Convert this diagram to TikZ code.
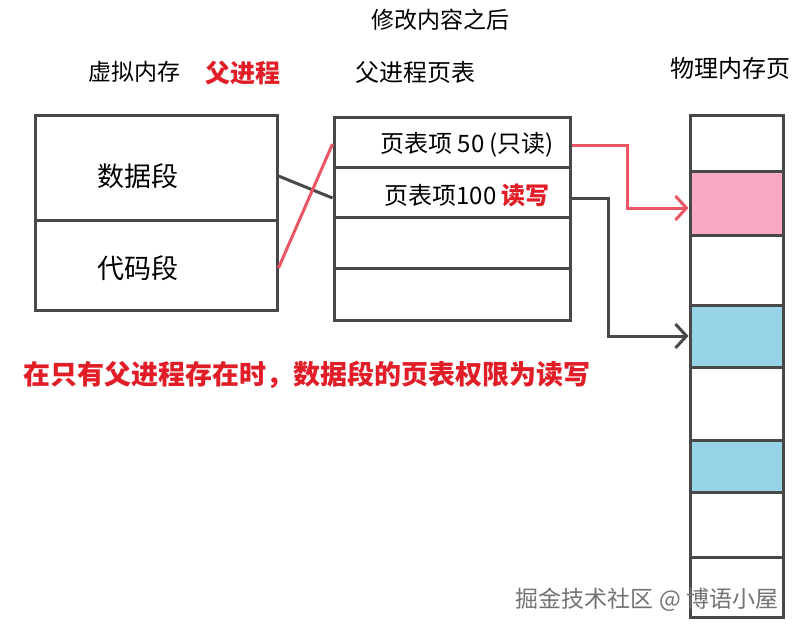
\documentclass[tikz,border=0pt]{standalone}
\usepackage{fontspec}
\setmainfont{Noto Sans CJK SC}
\usetikzlibrary{arrows.meta,positioning}
\definecolor{NoteRed}{RGB}{225,30,40}
\definecolor{LinkRed}{RGB}{236,86,100}
\definecolor{PagePink}{RGB}{248,170,196}
\definecolor{PageBlue}{RGB}{152,212,232}
\definecolor{FrameGray}{RGB}{72,72,72}
\newcommand{\cnsize}[1]{\fontsize{#1}{#1}\selectfont}

\begin{document}
\begin{tikzpicture}[x=1pt,y=-1pt,
  cellbox/.style={draw=FrameGray,line width=3pt,inner sep=0pt,fill=white},
  link/.style={line width=3pt},
  toarrow/.style={-{Straight Barb[length=11pt,width=24pt]}}]
\useasboundingbox (0,0) rectangle (811,633);
% headings
\node (title) at (440,20) {\cnsize{23}修改内容之后};
\node (vmhead) at (134,72) {\cnsize{23}虚拟内存};
\node[text=NoteRed,font=\bfseries] (parenthead) at (243,73) {\cnsize{25}父进程};
\node (pthead) at (415,72) {\cnsize{24}父进程页表};
\node (pghead) at (730,68) {\cnsize{24}物理内存页};
% virtual memory of the parent
\node[cellbox,minimum width=242pt,minimum height=105pt] (data) at (156,167.5) {};
\node[cellbox,minimum width=242pt,minimum height=90pt] (code) at (156,265) {};
\node (datatext) at (138,176) {\cnsize{27}数据段};
\node (codetext) at (138,268) {\cnsize{27}代码段};
% page table
\foreach \i/\a/\b in {1/117/167,2/167/217,3/217/268,4/268/320}
  \node[cellbox,minimum width=236pt,minimum height={(\b-\a)*1pt}] (pt\i) at (452,{(\a+\b)/2}) {};
\node[anchor=east] (pt1text) at ([xshift=-14pt,yshift=-3pt]pt1.east) {\cnsize{24}页表项 50 (只读)};
\node[anchor=east] (pt2text) at ([xshift=-18pt,yshift=-3pt]pt2.east) {\cnsize{24}页表项100 \textcolor{NoteRed}{\bfseries 读写}};
% physical pages
\foreach \i/\a/\b/\c in {1/115/171/white,2/171/235/PagePink,3/235/305/white,4/305/367/PageBlue,
  5/367/440/white,6/440/492/PageBlue,7/492/557/white,8/557/617/white}
  \node[cellbox,fill=\c,minimum width=93pt,minimum height={(\b-\a)*1pt}] (pg\i) at (736.5,{(\a+\b)/2}) {};
% links
\draw[link,FrameGray] (data.east |- datatext) -- ([yshift=-6pt]pt2.west);
\draw[link,LinkRed] (code.east |- codetext) -- ([yshift=-2pt]pt1.west);
\draw[link,LinkRed,toarrow] ([yshift=-3pt]pt1.east) -- ++(56,0) |- ([yshift=-5pt]pg2.west);
\draw[link,FrameGray,toarrow] ([yshift=-6pt]pt2.east) -- ++(37,0) |- (pg4.west);
% note
\node[text=NoteRed,font=\bfseries] (note) at (307,375) {\cnsize{27}在只有父进程存在时，数据段的页表权限为读写};
\node[text=black!55] (mark) at (647,600) {\cnsize{23}掘金技术社区 @ 博语小屋};
\end{tikzpicture}
\end{document}
